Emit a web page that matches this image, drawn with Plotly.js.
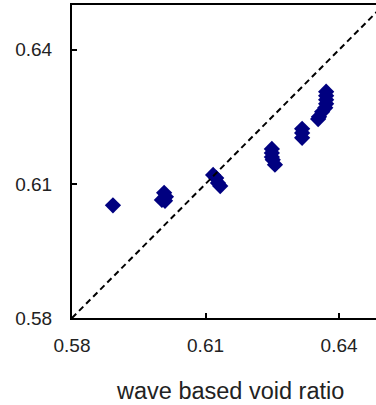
<!DOCTYPE html>
<html>
<head>
<meta charset="utf-8">
<script src="https://cdn.plot.ly/plotly-3.0.1.min.js"></script>
<style>html,body{margin:0;padding:0;background:#fff;}#chart{width:376px;height:405px;}</style>
</head>
<body>
<div id="chart"></div>
<script>
// wave based void ratio (x) vs. measured void ratio (y)
const waveVoid = [
  0.5892,
  0.6007, 0.6002, 0.6011, 0.6009,
  0.6117, 0.6124, 0.6128, 0.6133,
  0.6249, 0.6249, 0.6249, 0.6251, 0.6256,
  0.6317, 0.6317, 0.6317,
  0.6371, 0.6371, 0.6371, 0.6371, 0.6369, 0.6362, 0.6355, 0.6353
];
const otherVoid = [
  0.6052,
  0.6080, 0.6064, 0.6071, 0.6062,
  0.6120, 0.6113, 0.6102, 0.6095,
  0.6178, 0.6169, 0.6160, 0.6154, 0.6143,
  0.6223, 0.6214, 0.6203,
  0.6306, 0.6297, 0.6288, 0.6279, 0.6270, 0.6261, 0.6250, 0.6245
];
const lineX = [0.58, 0.65];
const lineY = [0.58, 0.65];
const tickVals = [0.58, 0.61, 0.64];
const tickText = ["0.58", "0.61", "0.64"];
const xTitle = "wave based void ratio";

const font = {family: "Liberation Sans, Arial, sans-serif", size: 19, color: "#222"};

const traces = [
  {x: waveVoid, y: otherVoid, type: "scatter", mode: "markers",
   marker: {symbol: "diamond", size: 12.5, color: "#000080", line: {width: 0}},
   hoverinfo: "none", showlegend: false},
  {x: lineX, y: lineY, type: "scatter", mode: "lines",
   line: {color: "#000", width: 2, dash: "6px,4px"},
   hoverinfo: "none", showlegend: false}
];

const layout = {
  width: 376, height: 405,
  margin: {l: 72, r: 0, t: 5, b: 87, pad: 0},
  paper_bgcolor: "#fff", plot_bgcolor: "#fff",
  font: font,
  showlegend: false,
  xaxis: {range: [0.58, 0.6483], tickvals: tickVals, ticktext: tickText,
    ticks: "inside", ticklen: 5, tickwidth: 2, tickcolor: "#000",
    showline: true, linecolor: "#000", linewidth: 2, mirror: true,
    showgrid: false, zeroline: false, ticklabelstandoff: 9, tickfont: font},
  yaxis: {range: [0.58, 0.65], tickvals: tickVals, ticktext: tickText,
    ticks: "inside", ticklen: 5, tickwidth: 2, tickcolor: "#000",
    showline: true, linecolor: "#000", linewidth: 2, mirror: false,
    showgrid: false, zeroline: false, ticklabelstandoff: 14, tickfont: font},
  annotations: [{text: xTitle, xref: "x", yref: "paper", x: 0.6155, y: -0.232,
    xanchor: "center", yanchor: "middle", showarrow: false,
    font: {family: "Liberation Sans, Arial, sans-serif", size: 23.5, color: "#222"}}]
};

Plotly.newPlot("chart", traces, layout, {staticPlot: true, displayModeBar: false});
</script>
</body>
</html>
